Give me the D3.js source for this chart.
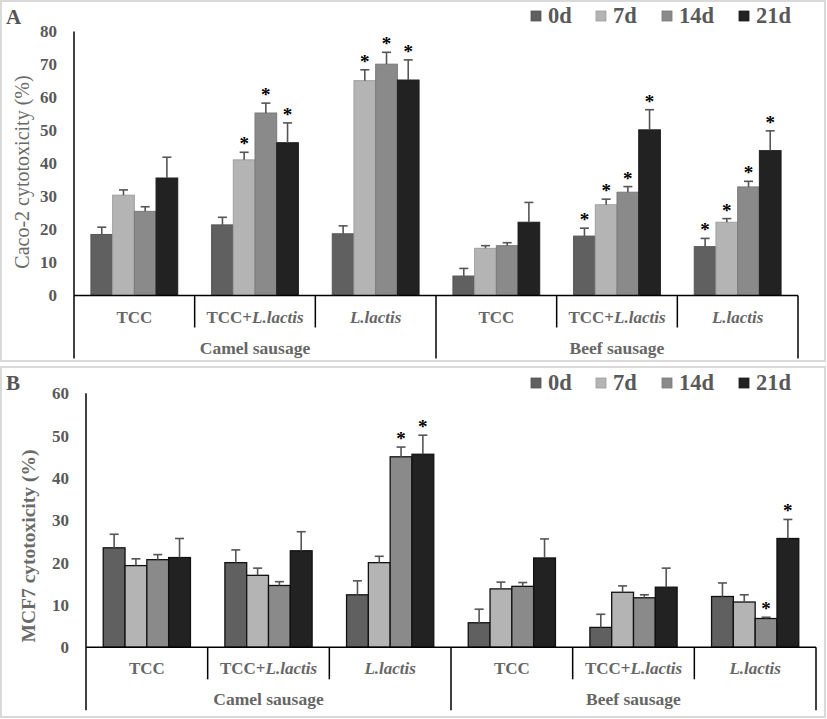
<!DOCTYPE html>
<html>
<head>
<meta charset="utf-8">
<script src="https://cdn.jsdelivr.net/npm/d3@7"></script>
<style>
  body { margin: 0; background: #fff; }
  svg text { font-family: "Liberation Serif", "Times New Roman", serif; }
</style>
</head>
<body>
<svg id="chart" width="827" height="719"></svg>
<script>
// ---------- data ----------
const groups = ["TCC", "TCC+L.lactis", "L.lactis", "TCC", "TCC+L.lactis", "L.lactis"];
const sausages = ["Camel sausage", "Beef sausage"];
const series = ["0d", "7d", "14d", "21d"];
const colors = ["#606060", "#b4b4b4", "#8a8a8a", "#222222"];

// Panel A: Caco-2
const cacoTicks = [0, 10, 20, 30, 40, 50, 60, 70, 80];
const caco0 = [18.5, 21.4, 18.7, 5.9, 18.0, 14.8];
const caco7 = [30.4, 41.1, 65.1, 14.3, 27.5, 22.2];
const caco14 = [25.5, 55.3, 70.1, 15.1, 31.3, 32.9];
const caco21 = [35.6, 46.3, 65.3, 22.2, 50.2, 43.9];
const cacoErr0 = [2.2, 2.3, 2.4, 2.3, 2.4, 2.5];
const cacoErr7 = [1.6, 2.3, 3.3, 0.8, 1.7, 1.1];
const cacoErr14 = [1.4, 3.0, 3.6, 0.9, 1.7, 1.7];
const cacoErr21 = [6.3, 6.0, 6.1, 6.0, 6.1, 6.0];
const cacoStar0 = [0, 0, 0, 0, 1, 1];
const cacoStar7 = [0, 1, 1, 0, 1, 1];
const cacoStar14 = [0, 1, 1, 0, 1, 1];
const cacoStar21 = [0, 1, 1, 0, 1, 1];

// Panel B: MCF7
const mcfTicks = [0, 10, 20, 30, 40, 50, 60];
const mcf0 = [23.5, 20.0, 12.4, 5.8, 4.7, 12.0];
const mcf7 = [19.3, 17.0, 20.0, 13.8, 13.0, 10.7];
const mcf14 = [20.7, 14.6, 45.0, 14.4, 11.7, 6.8];
const mcf21 = [21.2, 22.8, 45.6, 21.1, 14.2, 25.7];
const mcfErr0 = [3.2, 3.0, 3.3, 3.2, 3.1, 3.2];
const mcfErr7 = [1.6, 1.7, 1.5, 1.6, 1.5, 1.7];
const mcfErr14 = [1.2, 0.9, 2.3, 0.9, 0.7, 0.3];
const mcfErr21 = [4.5, 4.5, 4.5, 4.5, 4.5, 4.5];
const mcfStar0 = [0, 0, 0, 0, 0, 0];
const mcfStar7 = [0, 0, 0, 0, 0, 0];
const mcfStar14 = [0, 0, 1, 0, 0, 1];
const mcfStar21 = [0, 0, 1, 0, 0, 1];

// ---------- drawing ----------
const svg = d3.select("#chart");
const textGray = "#595959";

function panel(cfg) {
  const g = svg.append("g");
  // frame
  g.append("rect").attr("x", cfg.frame[0]).attr("y", cfg.frame[1])
    .attr("width", cfg.frame[2]).attr("height", cfg.frame[3])
    .attr("fill", "#fff").attr("stroke", "#d9d9d9").attr("stroke-width", 2);

  const y = d3.scaleLinear().domain([0, cfg.max]).range([cfg.y0, cfg.yTop]);
  const x0 = d3.scaleBand().domain(d3.range(groups.length)).range([cfg.left, cfg.right]).padding(0);
  const x1 = d3.scaleBand().domain(series).range([0, x0.bandwidth()]).paddingInner(0).paddingOuter(cfg.padOuter);

  // y tick labels
  const yAxis = d3.axisLeft(y).tickValues(cfg.ticks).tickSize(0).tickPadding(17);
  const ya = g.append("g").attr("transform", `translate(${cfg.left},0)`).call(yAxis);
  ya.select(".domain").remove();
  ya.selectAll("text").attr("font-size", 17).attr("font-weight", "bold")
    .attr("fill", textGray).attr("font-family", "Liberation Serif, serif");

  // bars
  const rows = d3.range(groups.length).flatMap(gi => series.map((s, si) => ({
    gi, si, v: cfg.values[si][gi], e: cfg.errs[si][gi], star: cfg.stars[si][gi]
  })));
  g.append("g").selectAll("rect").data(rows).join("rect")
    .attr("x", d => x0(d.gi) + x1(series[d.si]))
    .attr("y", d => y(d.v))
    .attr("width", x1.bandwidth())
    .attr("height", d => y(0) - y(d.v))
    .attr("fill", d => colors[d.si])
    .attr("stroke", d => cfg.barStroke || d3.color(colors[d.si]).darker(0.35))
    .attr("stroke-width", cfg.barStrokeW);

  // error bars
  const eg = g.append("g").attr("stroke", "#555").attr("stroke-width", 1.6);
  rows.forEach(d => {
    const cx = x0(d.gi) + x1(series[d.si]) + x1.bandwidth() / 2;
    eg.append("line").attr("x1", cx).attr("x2", cx).attr("y1", y(d.v)).attr("y2", y(d.v + d.e));
    eg.append("line").attr("x1", cx - 4.5).attr("x2", cx + 4.5).attr("y1", y(d.v + d.e)).attr("y2", y(d.v + d.e));
  });
  // stars
  g.append("g").selectAll("text").data(rows.filter(d => d.star)).join("text")
    .attr("x", d => x0(d.gi) + x1(series[d.si]) + x1.bandwidth() / 2)
    .attr("y", d => y(d.v + d.e) - 2)
    .attr("text-anchor", "middle").attr("font-size", 19).attr("font-weight", "bold").attr("fill", "#000")
    .text("*");

  // axes lines
  const ax = g.append("g").attr("stroke", "#000").attr("stroke-width", 1.5).attr("fill", "none");
  ax.append("line").attr("x1", cfg.left).attr("x2", cfg.left).attr("y1", cfg.yTop).attr("y2", cfg.y0 + 63);
  ax.append("line").attr("x1", cfg.left).attr("x2", cfg.right).attr("y1", cfg.y0).attr("y2", cfg.y0);
  // dividers
  d3.range(1, groups.length + 1).forEach(i => {
    const xx = i === groups.length ? cfg.right : x0(i);
    const outer = (i % 3 === 0);
    ax.append("line").attr("x1", xx).attr("x2", xx).attr("y1", cfg.y0).attr("y2", cfg.y0 + (outer ? 63 : 32));
  });

  // group labels
  groups.forEach((lab, i) => {
    const t = g.append("text").attr("x", x0(i) + x0.bandwidth() / 2).attr("y", cfg.y0 + 27)
      .attr("text-anchor", "middle").attr("font-size", 17).attr("font-weight", "bold").attr("fill", "#666");
    if (lab.startsWith("TCC+")) {
      t.append("tspan").text("TCC+");
      t.append("tspan").attr("font-style", "italic").text(lab.slice(4));
    } else if (lab.startsWith("L.")) {
      t.append("tspan").attr("font-style", "italic").text(lab);
    } else t.text(lab);
  });
  sausages.forEach((lab, i) => {
    g.append("text").attr("x", (x0(i * 3) + (i === 1 ? cfg.right : x0(3))) / 2).attr("y", cfg.y0 + 58)
      .attr("text-anchor", "middle").attr("font-size", 17.5).attr("font-weight", "bold").attr("fill", "#666")
      .text(lab);
  });

  // y title
  g.append("text").attr("transform", `translate(${cfg.titleX},${cfg.titleY}) rotate(-90)`)
    .attr("text-anchor", "middle").attr("font-size", cfg.titleSize)
    .attr("font-weight", cfg.titleWeight).attr("fill", "#6a6a6a").text(cfg.title);

  // panel letter
  g.append("text").attr("x", 6).attr("y", cfg.letterY).attr("font-size", 21).attr("font-weight", "bold")
    .attr("fill", "#555").text(cfg.letter);

  // legend
  const legX = [548, 613, 679, 756];
  series.forEach((s, i) => {
    g.append("rect").attr("x", legX[i] - 17).attr("y", cfg.legY - 12).attr("width", 10).attr("height", 10)
      .attr("fill", colors[i]).attr("stroke", d3.color(colors[i]).darker(0.4)).attr("stroke-width", 0.8);
    g.append("text").attr("x", legX[i]).attr("y", cfg.legY).attr("font-size", 22.5).attr("font-weight", "bold")
      .attr("fill", textGray).text(s);
  });
}

panel({
  frame: [1, 1, 824, 360],
  left: 74, right: 798, yTop: 31.5, y0: 295.5, max: 80, ticks: cacoTicks, padOuter: 0.78,
  values: [caco0, caco7, caco14, caco21],
  errs: [cacoErr0, cacoErr7, cacoErr14, cacoErr21],
  stars: [cacoStar0, cacoStar7, cacoStar14, cacoStar21],
  barStroke: null, barStrokeW: 1,
  title: "Caco-2 cytotoxicity (%)", titleX: 29, titleY: 172, titleSize: 20, titleWeight: "normal",
  letter: "A", letterY: 24, legY: 23
});

panel({
  frame: [1, 367, 824, 350],
  left: 86, right: 816, yTop: 393.3, y0: 647.3, max: 60, ticks: mcfTicks, padOuter: 0.79,
  values: [mcf0, mcf7, mcf14, mcf21],
  errs: [mcfErr0, mcfErr7, mcfErr14, mcfErr21],
  stars: [mcfStar0, mcfStar7, mcfStar14, mcfStar21],
  barStroke: "#111", barStrokeW: 1.3,
  title: "MCF7 cytotoxicity (%)", titleX: 35, titleY: 546, titleSize: 19.5, titleWeight: "bold",
  letter: "B", letterY: 390, legY: 390
});
</script>
</body>
</html>
